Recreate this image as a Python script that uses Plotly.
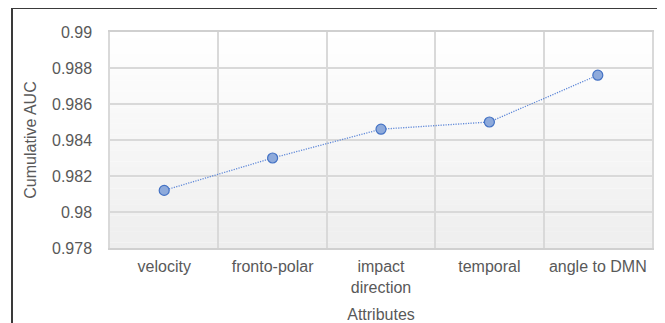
import plotly.graph_objects as go

categories = ["velocity", "fronto-polar", "impact<br>direction", "temporal", "angle to DMN"]
auc_values = [0.9812, 0.9830, 0.9846, 0.9850, 0.9876]
y_ticks = [0.978, 0.980, 0.982, 0.984, 0.986, 0.988, 0.990]
y_tick_labels = ["0.978", "0.98", "0.982", "0.984", "0.986", "0.988", "0.99"]

FONT = "Liberation Sans, Arial, sans-serif"
TXT = "#595959"

# the page body adds an 8px margin, so the figure is sized/offset to compensate
PAGE_OFF = 8
L, T, R, B = 110 - PAGE_OFF, 32 - PAGE_OFF, 13, 75
W, H = 665 - PAGE_OFF, 323 - PAGE_OFF
PW, PH = W - L - R, H - T - B

fig = go.Figure()
fig.add_trace(go.Scatter(
    x=categories, y=auc_values, mode="lines+markers",
    line=dict(color="#5f88d8", width=1.3, dash="1.2px,1.3px"),
    marker=dict(size=10, color="#8eaadb", line=dict(color="#4472c4", width=1.2)),
    showlegend=False,
))

shapes = []
n = 40
for i in range(n):
    t = i / n
    v = int(round(255 - (255 - 238) * (1 - t - 0.5 / n)))
    shapes.append(dict(type="rect", xref="x domain", yref="y domain",
                       x0=0, x1=1, y0=t, y1=t + 1.0 / n + 0.001,
                       fillcolor=f"rgb({v},{v},{v})", line=dict(width=0), layer="below"))
# outer frame (left edge at 12px, top edge at 8px in the final picture)
shapes.append(dict(type="rect", xref="paper", yref="paper",
                   x0=(12 - 110) / PW, x1=1.5, y0=-1.0, y1=1 + (32 - 8) / PH,
                   line=dict(color="#3a3a3a", width=2), fillcolor="rgba(0,0,0,0)", layer="above"))

fig.update_layout(
    width=W, height=H,
    margin=dict(l=L, r=R, t=T, b=B, autoexpand=False),
    paper_bgcolor="white", plot_bgcolor="white",
    font=dict(family=FONT, size=16, color=TXT),
    shapes=shapes,
    xaxis=dict(
        type="category", tickson="boundaries", showgrid=True, gridcolor="#d9d9d9", gridwidth=1.5,
        showline=True, linecolor="#d0d0d0", linewidth=1.5, mirror=True,
        ticks="outside", ticklen=13, tickcolor="rgba(0,0,0,0)", ticklabelstandoff=3,
        tickfont=dict(size=16, color=TXT), automargin=False,
        title=dict(text="Attributes", font=dict(size=16, color=TXT), standoff=19),
        range=[-0.5, 4.5],
    ),
    yaxis=dict(
        range=[0.978, 0.990], tickvals=y_ticks, ticktext=y_tick_labels,
        showgrid=True, gridcolor="#d9d9d9", gridwidth=1.5,
        showline=True, linecolor="#d9d9d9", linewidth=1.5, mirror=True,
        zeroline=False, automargin=False,
        ticks="outside", ticklen=13, tickcolor="rgba(0,0,0,0)",
        tickfont=dict(size=16, color=TXT),
        title=dict(text="Cumulative AUC", font=dict(size=16, color=TXT), standoff=11),
    ),
)

fig.write_html("out.html")
